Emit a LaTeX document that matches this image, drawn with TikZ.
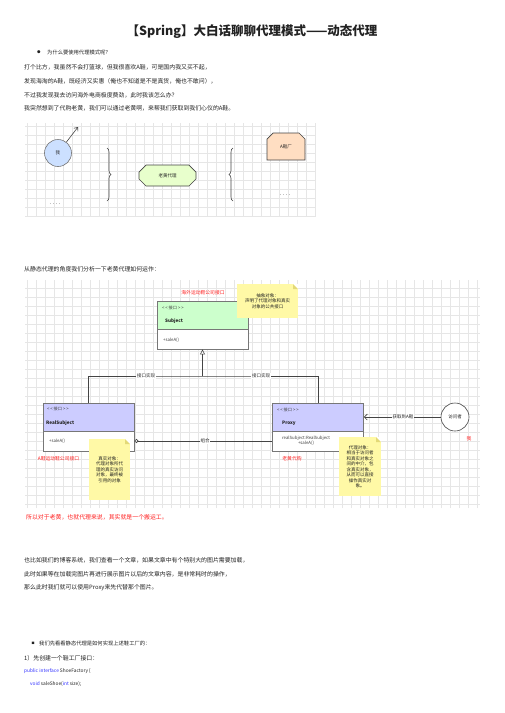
\documentclass[tikz,border=0pt]{standalone}
\usepackage{fontspec}
\setmainfont{Noto Sans CJK SC}
\usetikzlibrary{positioning, shapes.geometric, shapes.misc, arrows.meta, calc, decorations.pathreplacing}
\usepackage{xcolor}
\definecolor{pagetext}{HTML}{222222}
\definecolor{gridgray}{HTML}{E6E6E6}
\definecolor{mefill}{HTML}{CCE0FF}
\definecolor{agentfill}{HTML}{E8FFCC}
\definecolor{factoryfill}{HTML}{FFDEC2}
\definecolor{subjgreen}{HTML}{CCFFCC}
\definecolor{classblue}{HTML}{CCCCFF}
\definecolor{notefill}{HTML}{FFF9A6}
\definecolor{notefold}{HTML}{E3D977}
\definecolor{labelred}{HTML}{FF2020}
\definecolor{codeblue}{HTML}{3030FF}
\definecolor{boxgray}{HTML}{777777}
\definecolor{linegray}{HTML}{444444}

\tikzset{
  bodytext/.style={anchor=west, inner sep=0pt, text=pagetext, font=\fontsize{5.9}{7}\selectfont},
  redtext/.style={bodytext, text=labelred},
  gridline/.style={draw=gridgray, line width=0.3pt, step=9pt},
  smalltext/.style={inner sep=0pt, text=pagetext, font=\fontsize{4.5}{5.5}\selectfont},
  mecircle/.style={circle, draw=boxgray, fill=mefill, line width=0.6pt, minimum size=27pt, smalltext},
  agentbox/.style={chamfered rectangle, chamfered rectangle xsep=4pt, chamfered rectangle ysep=5pt,
    draw=linegray, fill=agentfill, line width=0.6pt, minimum width=57pt, minimum height=21pt, smalltext},
  factorybox/.style={chamfered rectangle, chamfered rectangle corners={north west, north east},
    chamfered rectangle xsep=4pt, chamfered rectangle ysep=4pt,
    draw=linegray, fill=factoryfill, line width=0.6pt, minimum width=38pt, minimum height=27pt, smalltext},
  dots/.style={smalltext, text=darkgray, font=\fontsize{6}{7}\selectfont},
  bracepath/.style={draw=linegray, line width=0.6pt, decorate, decoration={brace, amplitude=4pt}},
  classhead/.style={draw=boxgray, line width=0.8pt, minimum width=91pt, minimum height=28pt, inner sep=0pt},
  classbody/.style={draw=boxgray, line width=0.8pt, fill=white, minimum width=91pt, minimum height=20pt, inner sep=0pt},
  stereo/.style={anchor=west, smalltext, font=\fontsize{4.2}{5}\selectfont, text=darkgray},
  classname/.style={anchor=west, smalltext, font=\fontsize{4.6}{5.5}\selectfont\bfseries},
  member/.style={anchor=west, smalltext, font=\fontsize{4.3}{5}\selectfont, text=darkgray},
  notebox/.style={fill=notefill, align=center, smalltext, inner sep=1pt,
    path picture={
      \fill[white] (path picture bounding box.north east) -- ++(-5pt,0pt) -- ++(5pt,-5pt) -- cycle;
      \fill[notefold] ($(path picture bounding box.north east)+(-5pt,0pt)$) -- ++(0pt,-5pt) -- ++(5pt,0pt) -- cycle;
    }},
  linelabel/.style={smalltext, fill=white, inner sep=0.8pt},
  difflabel/.style={smalltext, text=labelred, font=\fontsize{4.8}{5.5}\selectfont},
  connector/.style={draw=linegray, line width=0.6pt},
}

\begin{document}
\begin{tikzpicture}[x=1pt, y=-1pt]
  \useasboundingbox (0,0) rectangle (504,713);
  \fill[white] (0,0) rectangle (504,713);

  % title and intro
  \node[inner sep=0pt, text=pagetext, font=\fontsize{12.5}{14}\selectfont\bfseries] (title) at (252,32)
    {【Spring】大白话聊聊代理模式——动态代理};
  \node[inner sep=0pt, text=pagetext, font=\fontsize{3.5}{4}\selectfont] (bulletwhy) at (39,52) {●};
  \node[bodytext, font=\fontsize{5.3}{6}\selectfont] (why) at (47,52) {为什么要使用代理模式呢？};
  \node[bodytext] (introa) at (24,67) {打个比方，我虽然不会打篮球，但我很喜欢A鞋，可是国内我又买不起，};
  \node[bodytext] (introb) at (24,81) {发现海淘的A鞋，既经济又实惠（俺也不知道是不是真货，俺也不敢问），};
  \node[bodytext] (introc) at (24,95) {不过我发现我去访问海外电商极度费劲，此时我该怎么办？};
  \node[bodytext] (introd) at (24,108) {我突然想到了代购老黄，我们可以通过老黄啊，来帮我们获取到我们心仪的A鞋。};

  % first sketch
  \draw[gridline] (25,216) grid (316,123);
  \node[mecircle] (me) at (58,153) {我};
  \coordinate (meto) at (78,127);
  \draw[connector, -{Straight Barb[length=3pt, width=5pt]}] (me) -- (meto);
  \node[dots] (medots) at (55,204) {.\ .\ .\ .};
  \draw[bracepath] (107,148) -- (107,201);
  \node[agentbox] (agent) at (167.5,175.5) {老黄代理};
  \draw[bracepath] (233,201) -- (233,148);
  \node[factorybox] (factory) at (286,146.5) {A鞋厂};
  \node[dots] (factorydots) at (285,195) {.\ .\ .\ .};

  \node[bodytext] (static) at (24,269) {从静态代理的角度我们分析一下老黄代理如何运作：};

  % class diagram
  \draw[gridline] (25,508) grid (480,280);

  \node[difflabel] (subjred) at (203,293) {海外运动鞋公司接口};
  \node[classhead, fill=subjgreen] (subjhead) at (202.5,315) {};
  \node[classbody] (subjbody) at (202.5,339) {};
  \node[stereo] (subjst) at (162,308) {< < 接口 > >};
  \node[classname] (subjname) at (165,321) {Subject};
  \node[member] (subjop) at (163,340) {+saleA()};
  \node[notebox, minimum width=61pt, minimum height=34pt] (subjnote) at (267.5,301)
    {抽象对象：\\声明了代理对象和真实\\对象的公共接口};

  \node[classhead, fill=classblue] (rshead) at (88.5,417) {};
  \node[classbody] (rsbody) at (88.5,441) {};
  \node[stereo] (rsst) at (47,409) {< < 接口 > >};
  \node[classname] (rsname) at (46,423) {RealSubject};
  \node[member] (rsop) at (49,441) {+saleA()};

  \node[classhead, fill=classblue] (pxhead) at (318,417) {};
  \node[classbody] (pxbody) at (318,441) {};
  \node[stereo] (pxst) at (277,410) {< < 接口 > >};
  \node[classname] (pxname) at (282,423) {Proxy};
  \node[member, anchor=center, align=center] (pxop) at (306,440.5) {realSubject:RealSubject\\+saleA()};

  \coordinate (jn) at (202.5,376);
  \draw[connector] (rshead.north) |- (jn) -| (pxhead.north);
  \draw[connector, -{Triangle[open, length=5pt, width=5pt]}] (jn) -- (subjbody);
  \node[linelabel] (implreal) at (146,376) {接口实现};
  \node[linelabel] (implproxy) at (261,376) {接口实现};

  \draw[connector, {Circle[open, length=4pt]}-] (rsbody) -- (pxbody);
  \node[linelabel] (combine) at (205,441) {组合};

  \node[circle, draw=linegray, fill=white, line width=0.6pt, minimum size=28pt, smalltext] (visitor) at (455,417) {访问者};
  \draw[connector, -{Straight Barb[length=3pt, width=6pt]}] (visitor) -- (pxhead);
  \node[linelabel] (getshoe) at (403,417) {获取到A鞋};
  \node[difflabel] (mered) at (469,439) {我};

  \node[notebox, minimum width=41pt, minimum height=61pt] (rsnote) at (109.5,469.5)
    {真实对象：\\代理对象所代\\理的真实访问\\对象，最终被\\引用的对象};
  \node[notebox, minimum width=42pt, minimum height=59pt] (pxnote) at (360,466.5)
    {代理对象：\\相当于访问者\\和真实对象之\\间的中介，包\\含真实对象，\\从而可以直接\\操作真实对\\象。};
  \node[difflabel] (rsred) at (58.5,459) {A鞋运动鞋公司接口};
  \node[difflabel] (pxred) at (292,459) {老黄代购};

  % closing text
  \node[redtext] (porter) at (26,517) {所以对于老黄，也就代理来说，其实就是一个搬运工。};
  \node[bodytext] (bloga) at (24,560) {也比如我们的博客系统，我们查看一个文章，如果文章中有个特别大的图片需要加载，};
  \node[bodytext] (blogb) at (24,574) {此时如果等在加载完图片再进行展示图片以后的文章内容，是非常耗时的操作，};
  \node[bodytext] (blogc) at (24,588) {那么此时我们就可以使用Proxy来先代替那个图片。};

  \node[inner sep=0pt, text=pagetext, font=\fontsize{3}{4}\selectfont] (bulletstatic) at (33,643) {■};
  \node[bodytext, font=\fontsize{5.3}{6}\selectfont] (staticq) at (39,643) {我们先看看静态代理是如何实现上述鞋工厂的：};
  \node[bodytext] (stepone) at (24,658) {1）先创建一个鞋工厂接口：};
  \node[bodytext, font=\fontsize{4.8}{6}\selectfont] (codea) at (24,671) {{\color{codeblue}public interface} ShoeFactory \{};
  \node[bodytext, font=\fontsize{4.8}{6}\selectfont] (codeb) at (30,684) {{\color{codeblue}void} saleShoe({\color{codeblue}int} size);};
\end{tikzpicture}
\end{document}
